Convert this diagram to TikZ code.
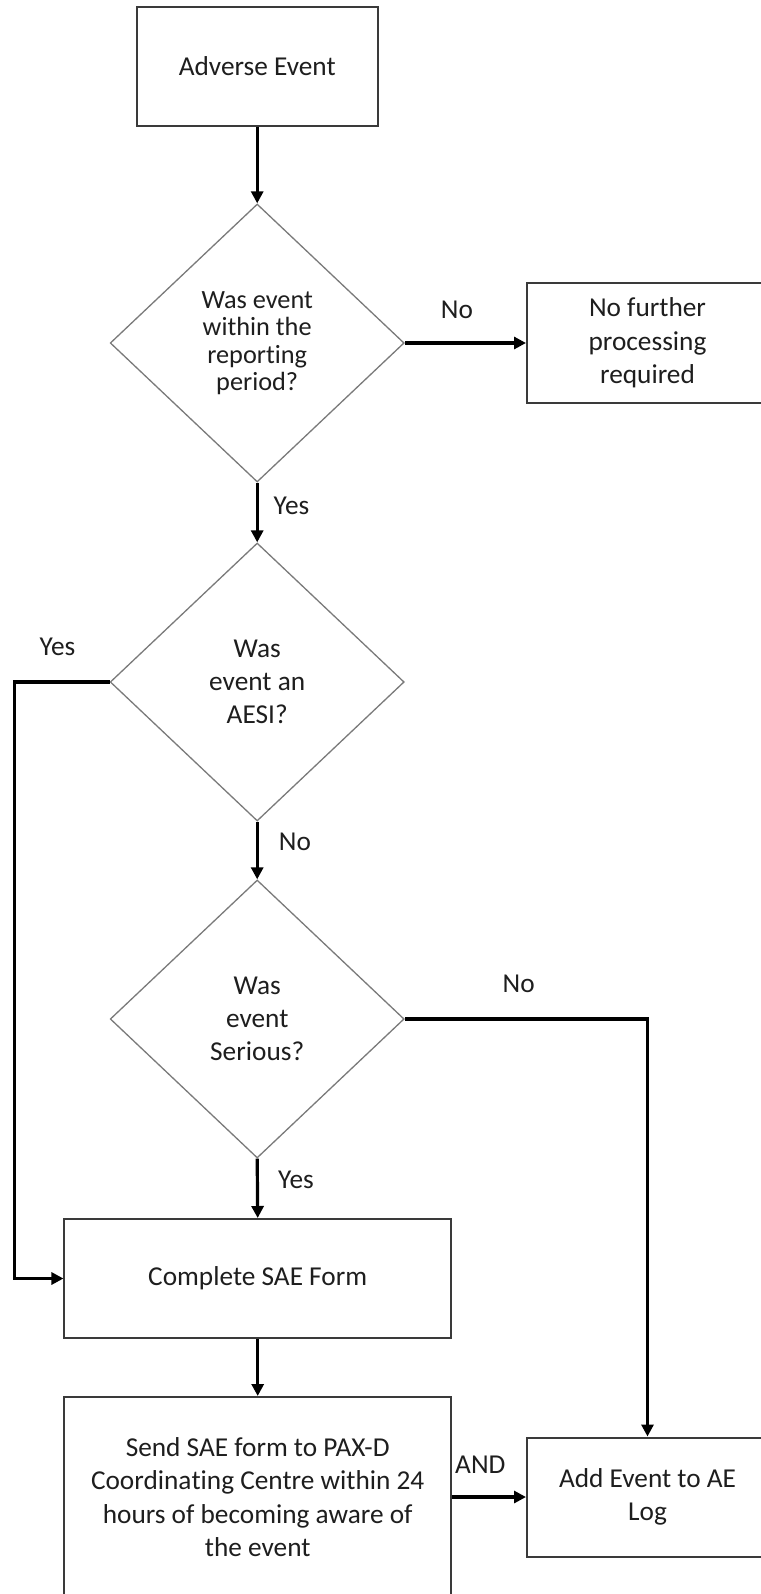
\documentclass[tikz,border=0pt]{standalone}
\usepackage{fontspec}
\setmainfont[RawFeature={-liga;-clig;-dlig;-calt}]{Carlito}
\usetikzlibrary{shapes.geometric,arrows.meta}
\definecolor{boxline}{HTML}{3A3A3A}
\definecolor{dialine}{HTML}{7A7A7A}
\definecolor{txt}{HTML}{1E1E1E}
\newcommand{\nolig}{\kern0pt }
\begin{document}
\begin{tikzpicture}[x=1pt,y=-1pt,
  every node/.style={text=txt,font=\fontsize{27.3}{33.3}\selectfont},
  procbox/.style={draw=boxline,line width=2pt,rectangle,inner sep=0pt,align=center,fill=white},
  decide/.style={draw=dialine,line width=1.3pt,diamond,inner sep=0pt,align=center,minimum width=294pt,minimum height=278pt},
  conn/.style={line width=3.2pt,draw=black,-{Triangle[length=12pt,width=12pt]}},
  lbl/.style={inner sep=0pt}
]
\useasboundingbox (0,0) rectangle (760,1594);
\fill[white] (0,0) rectangle (760,1594);

% nodes
\node[procbox,minimum width=241pt,minimum height=119pt] (ae) at (257.2,66.4) {Adverse Event};
\node[decide,font=\fontsize{26.3}{27.5}\selectfont] (d1) at (257.2,343) {Was event\\within the\\repor\nolig ting\\period?};
\node[procbox,minimum width=241pt,minimum height=119pt] (nf) at (647.5,343) {No further\\processing\\required};
\node[decide] (d2) at (257.2,682) {Was\\event an\\AESI?};
\node[decide] (d3) at (257.2,1019) {Was\\event\\Serious?};
\node[procbox,minimum width=386.5pt,minimum height=119pt] (cs) at (257.7,1278.5) {Complete SAE Form};
\node[procbox,minimum width=386.5pt,minimum height=200pt] (send) at (257.7,1497) {Send SAE form to PAX-D\\Coordina\nolig ting Centre within 24\\hours of becoming aware of\\the event};
\node[procbox,minimum width=241pt,minimum height=119pt] (add) at (647.5,1497) {Add Event to AE\\Log};

% labels
\node[lbl] (lno1) at (457,310) {No};
\node[lbl] (lyes1) at (291.5,506) {Yes};
\node[lbl] (lyes2) at (57.5,647) {Yes};
\node[lbl] (lno2) at (295,842) {No};
\node[lbl] (lno3) at (518.7,984) {No};
\node[lbl] (lyes3) at (296,1180) {Yes};
\node[lbl,anchor=west] (land) at (455,1465) {AND};

% helper coordinates
\coordinate (lft) at (14.5,682);
\coordinate (rgt) at (647.5,1019);

% connectors
\draw[conn] (ae.south) -- (d1.north);
\draw[conn] (d1.east) -- (nf.west);
\draw[conn] (d1.south) -- (d2.north);
\draw[conn] (d2.west) -- (lft) |- (cs.west);
\draw[conn] (d2.south) -- (d3.north);
\draw[conn] (d3.east) -- (rgt) -- (add.north);
\draw[conn] (d3.south) -- (cs.north);
\draw[conn] (cs.south) -- (send.north);
\draw[conn] (send.east) -- (add.west);
\end{tikzpicture}
\end{document}
